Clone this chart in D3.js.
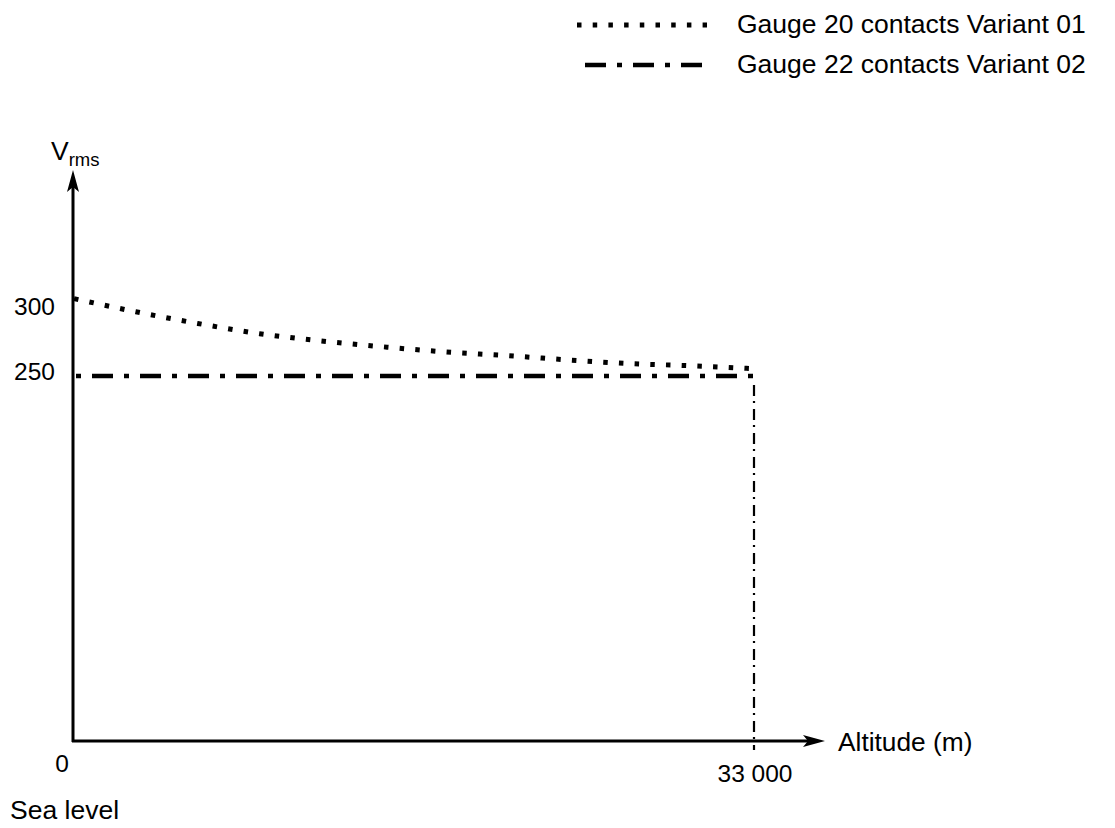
<!DOCTYPE html>
<html>
<head>
<meta charset="utf-8">
<script src="https://cdn.jsdelivr.net/npm/d3@7"></script>
<style>
  body { margin: 0; background: #fff; }
  svg text { font-family: 'Liberation Sans', Arial, sans-serif; fill: #000; }
</style>
</head>
<body>
<svg id="chart" width="1115" height="828"></svg>
<script>
'use strict';

// data
var altitude = [0, 3000, 6000, 9000, 12000, 15000, 18000, 21000, 24000, 27000, 30000, 33000];
var variant01 = [303, 294, 286, 279, 274, 270, 266.5, 264, 261, 258.5, 257, 255];
var variant02Altitude = [0, 33000];
var variant02 = [250, 250];
var dropAltitude = [33000, 33000];
var dropVolts = [250, 0];
var yTicks = [300, 250];
var xTicks = [0, 33000];
var xTickLabels = ['0', '33 000'];
var legendLabels = ['Gauge 20 contacts Variant 01', 'Gauge 22 contacts Variant 02'];

var originX = 73;
var originY = 741;
var axisEndX = 825;
var axisTopY = 170;

var dottedDash = '4.5 11.2';
var dashDotDash = '21 11 5 11';
var thinDashDot = '11 5 2 6';

var svg = d3.select('#chart');

var x = d3.scaleLinear().domain([0, 33000]).range([74, 754]);
var y = d3.scaleLinear().domain([0, 300]).range([originY, 303]);

function arrowHead(tipX, tipY, dir) {
  var len = 22, half = 6, pts;
  if (dir === 'up') {
    pts = [[tipX, tipY], [tipX - half, tipY + len], [tipX, tipY + len - 5], [tipX + half, tipY + len]];
  } else {
    pts = [[tipX, tipY], [tipX - len, tipY - half], [tipX - len + 5, tipY], [tipX - len, tipY + half]];
  }
  svg.append('path').attr('d', 'M' + pts.join('L') + 'Z').attr('fill', '#000');
}

// axes
svg.append('line').attr('x1', originX).attr('x2', originX).attr('y1', originY + 1).attr('y2', axisTopY + 10)
  .attr('stroke', '#000').attr('stroke-width', 3);
svg.append('line').attr('x1', originX - 1).attr('x2', axisEndX - 10).attr('y1', originY).attr('y2', originY)
  .attr('stroke', '#000').attr('stroke-width', 3);
arrowHead(originX, axisTopY, 'up');
arrowHead(axisEndX, originY, 'right');

// y tick labels
svg.selectAll('.ytick').data(yTicks).enter().append('text')
  .attr('class', 'ytick')
  .attr('x', 55)
  .attr('y', function (d) { return y(d) + (d === 250 ? -5 : 3); })
  .attr('dy', '0.35em')
  .attr('text-anchor', 'end')
  .attr('font-size', 24.5)
  .text(function (d) { return d; });

// x tick labels
svg.selectAll('.xtick').data(xTicks).enter().append('text')
  .attr('class', 'xtick')
  .attr('x', function (d, i) { return i === 0 ? x(d) - 12 : x(d) + 1; })
  .attr('y', function (d, i) { return i === 0 ? 763 : 773; })
  .attr('dy', '0.35em')
  .attr('text-anchor', 'middle')
  .attr('font-size', 24.5)
  .text(function (d, i) { return xTickLabels[i]; });

svg.append('text').attr('x', 10).attr('y', 819).attr('font-size', 26.5).text('Sea level');
svg.append('text').attr('x', 838).attr('y', 742).attr('dy', '0.35em').attr('font-size', 26.3).text('Altitude (m)');

var yLabel = svg.append('text').attr('x', 51).attr('y', 160).attr('font-size', 26.5);
yLabel.append('tspan').text('V');
yLabel.append('tspan').attr('font-size', 18.5).attr('dy', 6).text('rms');

// series
var line = d3.line()
  .x(function (d) { return x(d[0]); })
  .y(function (d) { return y(d[1]); })
  .curve(d3.curveMonotoneX);

svg.append('path')
  .datum(d3.zip(altitude, variant01))
  .attr('d', line)
  .attr('fill', 'none')
  .attr('stroke', '#000')
  .attr('stroke-width', 5)
  .attr('stroke-dasharray', dottedDash);

svg.append('path')
  .datum(d3.zip(variant02Altitude, variant02))
  .attr('d', d3.line().x(function (d) { return x(d[0]); }).y(function (d) { return y(d[1]); }))
  .attr('fill', 'none')
  .attr('stroke', '#000')
  .attr('stroke-width', 4.5)
  .attr('stroke-dasharray', dashDotDash)
  .attr('stroke-dashoffset', 30);

svg.append('path')
  .datum(d3.zip(dropAltitude, dropVolts))
  .attr('d', d3.line().x(function (d) { return x(d[0]); }).y(function (d) { return y(d[1]) + 9; }))
  .attr('fill', 'none')
  .attr('stroke', '#000')
  .attr('stroke-width', 2.2)
  .attr('stroke-dasharray', thinDashDot);

// legend
var legendStyles = [
  { dash: dottedDash, offset: 0 },
  { dash: dashDotDash, offset: -8 }
];
legendLabels.forEach(function (label, i) {
  var ly = 25 + i * 40;
  svg.append('line')
    .attr('x1', 577).attr('x2', 707).attr('y1', ly).attr('y2', ly)
    .attr('stroke', '#000').attr('stroke-width', i === 0 ? 5 : 4.5)
    .attr('stroke-dasharray', legendStyles[i].dash)
    .attr('stroke-dashoffset', legendStyles[i].offset);
  svg.append('text').attr('x', 737).attr('y', ly - 1).attr('dy', '0.35em')
    .attr('font-size', 26.5).text(label);
});
</script>
</body>
</html>
